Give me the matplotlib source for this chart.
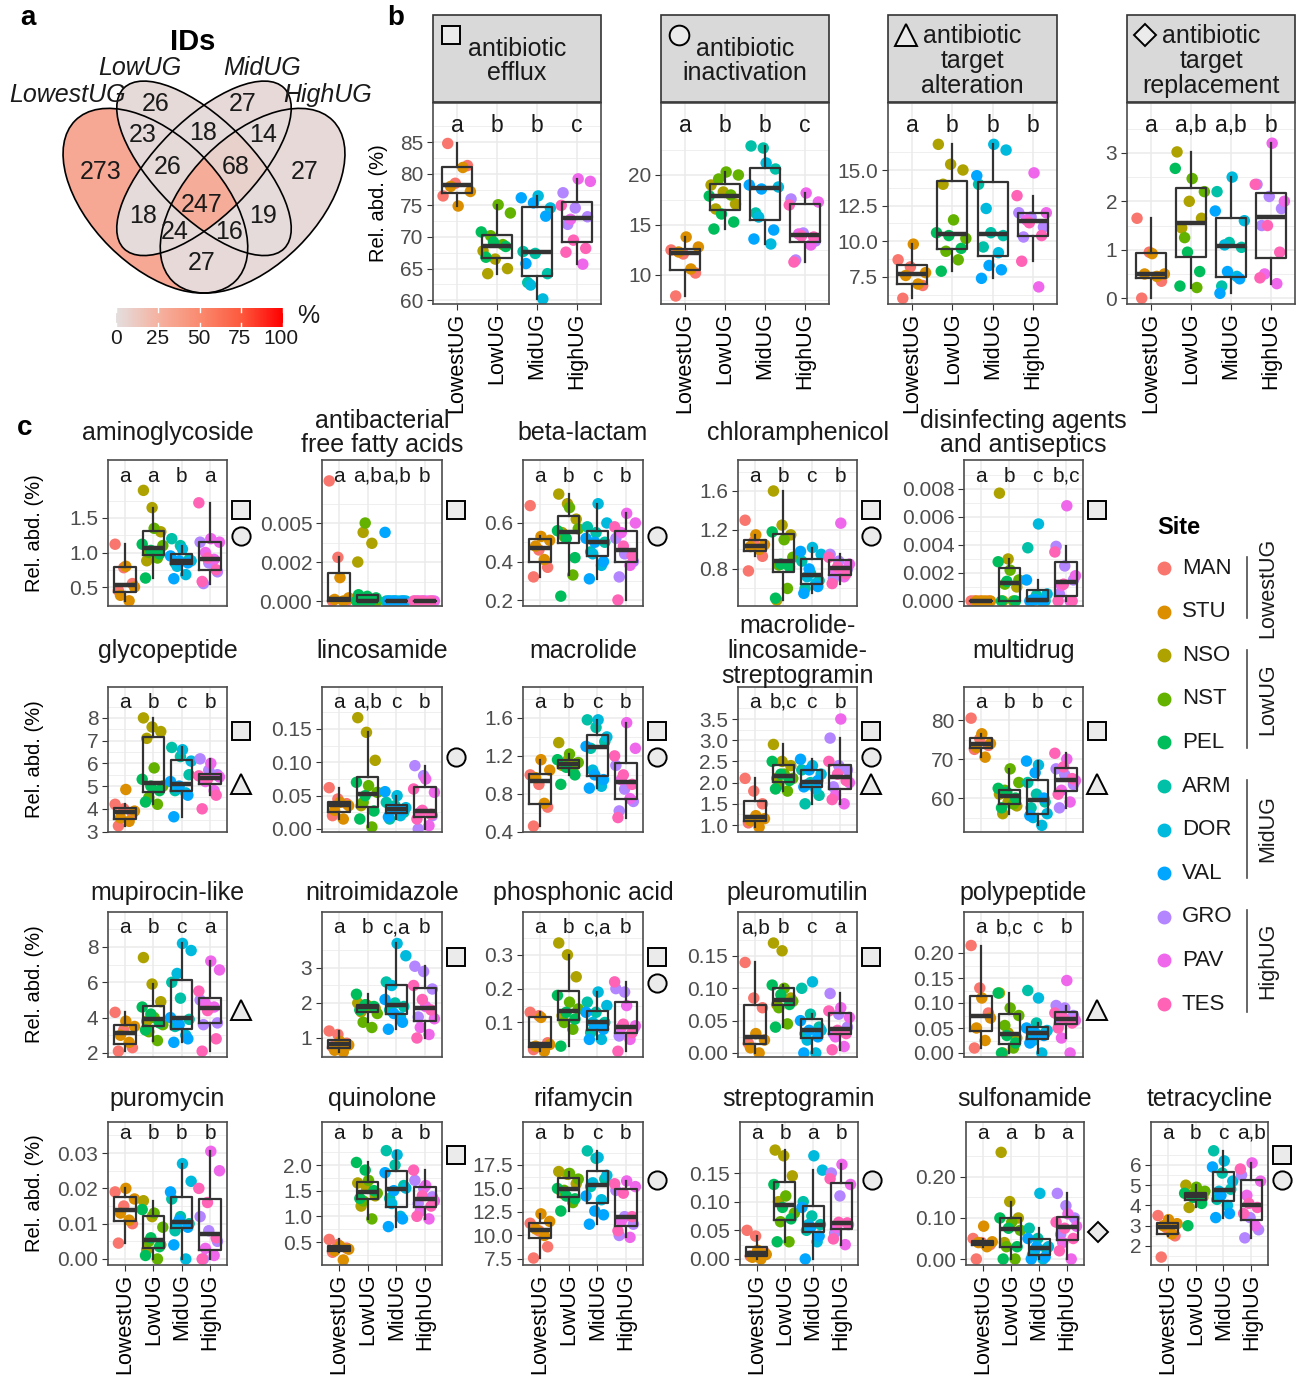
import numpy as np
import matplotlib
matplotlib.use("Agg")
import matplotlib.pyplot as plt
from matplotlib.patches import Ellipse, Rectangle
from matplotlib.colors import LinearSegmentedColormap
from matplotlib.lines import Line2D
from matplotlib.transforms import blended_transform_factory

plt.rcParams['font.family'] = ['Liberation Sans', 'DejaVu Sans']

# ---------------- data ----------------
groups = ['LowestUG', 'LowUG', 'MidUG', 'HighUG']
sites = ['MAN', 'STU', 'NSO', 'NST', 'PEL', 'ARM', 'DOR', 'VAL', 'GRO', 'PAV', 'TES']
site_colors = ['#F8766D', '#DB8E00', '#AEA200', '#64B200', '#00BD5C', '#00C1A7',
               '#00BADE', '#00A6FF', '#B385FF', '#EF67EB', '#FF63B6']
group_sites = [[0, 1], [2, 3, 4], [5, 6, 7], [8, 9, 10]]

# venn: membership (LowestUG, LowUG, MidUG, HighUG) -> number of IDs
venn_sets = ['LowestUG', 'LowUG', 'MidUG', 'HighUG']
venn_regions = ['1000', '0100', '0010', '0001', '1100', '0110', '0011', '1110',
                '0111', '1010', '1111', '0101', '1011', '1101', '1001']
venn_counts = [273, 26, 27, 27, 23, 18, 14, 26, 68, 18, 247, 19, 24, 16, 27]
venn_label_xy = [(0.182, 0.559), (0.352, 0.769), (0.620, 0.769), (0.812, 0.559),
                 (0.312, 0.673), (0.497, 0.679), (0.682, 0.673), (0.389, 0.574),
                 (0.599, 0.574), (0.312, 0.423), (0.494, 0.457), (0.682, 0.423),
                 (0.410, 0.373), (0.577, 0.373), (0.494, 0.278)]

# values per site: [LowestUG: MAN, STU], [LowUG: NSO, NST, PEL], [MidUG: ARM, DOR, VAL], [HighUG: GRO, PAV, TES]
efflux = [[[84.8, 81.3, 78.5, 76.5], [81.0, 78.0, 77.2, 74.9]],
          [[64.2, 65.0, 66.5, 67.8], [68.8, 70.2, 73.8, 75.1], [66.8, 68.5, 69.2, 70.8]],
          [[62.8, 64.2, 67.4, 67.7], [60.2, 62.4, 74.6, 76.5], [65.8, 73.3, 75.4, 76.2]],
          [[72.0, 73.2, 74.6, 77.0], [65.7, 72.8, 78.8, 79.2], [67.6, 68.2, 69.5, 75.0]]]
inactivation = [[[7.9, 10.2, 12.1, 12.5], [10.6, 12.3, 12.8, 13.8]],
                [[16.6, 17.1, 18.3, 19.0], [18.0, 19.6, 20.0, 20.3], [14.6, 15.3, 16.1, 17.9]],
                [[16.2, 20.6, 22.7, 22.9], [13.1, 15.8, 18.8, 21.2], [13.6, 14.5, 18.6, 19.0]],
                [[11.5, 13.4, 14.2, 17.6], [13.0, 14.1, 17.3, 18.2], [11.3, 13.8, 13.9, 17.0]]]
alteration = [[[6.0, 6.9, 8.2, 8.7], [7.0, 7.6, 7.8, 9.8]],
              [[14.0, 15.0, 15.4, 16.8], [8.7, 9.3, 10.2, 11.5], [7.9, 9.5, 10.4, 10.6]],
              [[9.6, 10.4, 10.6, 14.0], [9.2, 12.3, 16.4, 16.8], [7.4, 8.0, 8.3, 14.6]],
              [[10.3, 11.0, 11.7, 12.0], [6.8, 11.5, 12.0, 14.8], [8.6, 10.4, 11.3, 13.2]]]
replacement = [[[0.0, 0.35, 0.95, 1.65], [0.45, 0.5, 0.5, 0.92]],
               [[1.45, 1.65, 2.0, 3.02], [0.22, 1.25, 2.2, 2.47], [0.25, 0.55, 0.95, 2.68]],
               [[0.25, 1.05, 1.15, 2.2], [0.45, 1.1, 1.6, 2.5], [0.1, 0.4, 0.55, 1.8]],
               [[1.5, 1.85, 2.1, 2.35], [0.3, 0.5, 2.0, 3.2], [0.42, 0.95, 1.5, 2.35]]]

aminoglycoside = [[[0.45, 0.55, 0.78, 1.12], [0.3, 0.38, 0.5, 0.8]],
                  [[0.88, 1.3, 1.65, 1.9], [0.92, 1.0, 1.1, 1.35], [0.63, 0.98, 1.03, 1.12]],
                  [[0.85, 0.9, 1.1, 1.2], [0.68, 0.8, 0.88, 1.05], [0.62, 0.85, 0.88, 0.95]],
                  [[0.55, 0.72, 0.85, 1.15], [0.9, 1.0, 1.15, 1.2], [0.58, 0.75, 0.92, 1.72]]]
fatty_acids = [[[0, 0, 0.0028, 0.0077], [0, 0.0001, 0.0002, 0.0015]],
               [[0, 0, 0, 0.0025, 0.0037, 0.0044], [0, 0, 0, 0.0001, 0.005], [0, 0, 0, 0.0002, 0.0003, 0.0004]],
               [[0, 0, 0, 0], [0, 0, 0, 0], [0, 0, 0, 0.0044]],
               [[0, 0, 0, 0], [0, 0, 0, 0], [0, 0, 0, 0]]]
beta_lactam = [[[0.32, 0.37, 0.46, 0.69], [0.41, 0.48, 0.51, 0.53]],
               [[0.55, 0.62, 0.7, 0.75], [0.33, 0.53, 0.57, 0.68], [0.22, 0.42, 0.52, 0.56]],
               [[0.45, 0.5, 0.55, 0.58], [0.38, 0.44, 0.6, 0.7], [0.31, 0.4, 0.5, 0.52]],
               [[0.32, 0.4, 0.44, 0.52], [0.38, 0.55, 0.6, 0.65], [0.2, 0.43, 0.48, 0.58]]]
chloramphenicol = [[[0.78, 0.93, 1.08, 1.3], [1.0, 1.03, 1.05, 1.15]],
                   [[0.48, 1.15, 1.25, 1.6], [0.6, 0.84, 0.92, 1.1], [0.5, 0.82, 0.85, 1.18]],
                   [[0.6, 0.68, 0.76, 0.88], [0.65, 0.72, 0.95, 1.02], [0.55, 0.62, 0.8, 0.98]],
                   [[0.7, 0.8, 0.88, 0.95], [0.72, 0.78, 0.85, 1.27], [0.65, 0.75, 0.82, 0.92]]]
disinfecting = [[[0, 0, 0, 0], [0, 0, 0, 0]],
                [[0.0, 0.001, 0.003, 0.0077], [0.0, 0.0012, 0.0015, 0.0022], [0.0, 0.0, 0.0014, 0.0028]],
                [[0, 0, 0.0004, 0.0038], [0, 0.0001, 0.0005, 0.0055], [0, 0, 0.0001, 0.0015]],
                [[0.0005, 0.0015, 0.0025, 0.0039], [0.0, 0.0011, 0.0018, 0.0068], [0, 0, 0.0012, 0.0035]]]
glycopeptide = [[[3.25, 3.8, 4.0, 4.2], [3.45, 3.6, 3.9, 4.85]],
                [[7.1, 7.4, 7.6, 8.0], [4.2, 4.5, 5.0, 5.8], [4.3, 4.8, 5.0, 5.3]],
                [[4.8, 5.5, 6.3, 6.7], [4.7, 4.9, 6.1, 6.6], [3.65, 4.6, 5.0, 5.2]],
                [[5.3, 5.5, 5.7, 6.2], [4.8, 5.2, 5.4, 6.0], [4.0, 4.6, 5.3, 5.45]]]
lincosamide = [[[0.02, 0.038, 0.045, 0.062], [0.015, 0.028, 0.035, 0.04]],
               [[0.035, 0.103, 0.145, 0.167], [0.003, 0.04, 0.055, 0.065], [0.015, 0.027, 0.05, 0.07]],
               [[0.015, 0.025, 0.035, 0.04], [0.02, 0.03, 0.032, 0.05], [0.018, 0.028, 0.03, 0.056]],
               [[0.0, 0.02, 0.08, 0.095], [0.005, 0.025, 0.055, 0.075], [0.015, 0.022, 0.028, 0.06]]]
macrolide = [[[0.46, 0.66, 0.9, 1.0], [0.7, 0.97, 1.05, 1.16]],
             [[1.1, 1.12, 1.15, 1.34], [1.05, 1.1, 1.13, 1.22], [0.9, 1.0, 1.08, 1.16]],
             [[1.28, 1.35, 1.5, 1.58], [0.88, 1.05, 1.4, 1.58], [0.86, 0.95, 1.0, 1.3]],
             [[0.62, 0.72, 0.85, 1.1], [0.75, 0.95, 1.28, 1.55], [0.55, 0.9, 1.0, 1.2]]]
mls = [[[1.05, 1.5, 1.8, 2.1], [0.95, 1.1, 1.15, 1.22]],
       [[2.1, 2.4, 2.5, 2.9], [1.8, 1.95, 2.1, 2.2], [1.85, 2.05, 2.2, 2.5]],
       [[1.5, 1.7, 2.0, 2.3], [1.85, 1.95, 2.2, 2.4], [1.9, 2.05, 2.3, 2.55]],
       [[1.9, 2.3, 2.4, 3.05], [1.5, 1.7, 2.0, 3.5], [1.6, 2.05, 2.2, 2.5]]]
multidrug = [[[72.5, 73.5, 75.2, 80.5], [70.5, 73.0, 74.0, 76.5]],
             [[56.0, 58.0, 59.0, 61.0], [58.5, 62.0, 64.0, 67.5], [57.5, 60.0, 61.5, 62.5]],
             [[57.5, 59.0, 61.0, 64.0], [53.0, 55.0, 56.0, 68.5], [55.5, 60.0, 66.5, 69.5]],
             [[57.5, 63.5, 66.0, 67.5], [59.0, 62.0, 64.5, 70.0], [61.0, 65.0, 68.0, 71.5]]]
mupirocin = [[[2.1, 2.3, 3.3, 4.3], [2.6, 3.0, 3.5, 3.8]],
             [[3.8, 4.9, 5.9, 7.4], [2.7, 3.2, 3.6, 4.0], [3.3, 3.7, 4.2, 4.6]],
             [[3.5, 3.9, 5.1, 6.0], [3.0, 6.5, 7.8, 8.2], [2.6, 2.8, 3.6, 4.0]],
             [[3.6, 3.7, 4.5, 5.0], [4.6, 4.8, 6.7, 7.2], [2.1, 2.8, 4.4, 5.5]]]
nitroimidazole = [[[0.75, 0.85, 1.1, 1.2], [0.6, 0.65, 0.8, 0.9]],
                  [[1.75, 1.85, 1.95, 2.0], [1.3, 1.45, 1.7, 1.9], [1.8, 1.9, 1.95, 2.25]],
                  [[1.8, 1.9, 2.0, 2.6], [1.6, 2.5, 3.35, 3.7], [1.25, 1.45, 1.7, 2.1]],
                  [[1.6, 2.4, 2.9, 3.05], [1.1, 1.3, 1.55, 1.9], [1.0, 1.8, 2.1, 2.5]]]
phosphonic = [[[0.02, 0.04, 0.12, 0.13], [0.015, 0.03, 0.035, 0.115]],
              [[0.12, 0.235, 0.3, 0.335], [0.08, 0.1, 0.14, 0.16], [0.03, 0.11, 0.13, 0.18]],
              [[0.07, 0.1, 0.13, 0.16], [0.05, 0.1, 0.15, 0.19], [0.05, 0.08, 0.09, 0.13]],
              [[0.06, 0.08, 0.19, 0.2], [0.05, 0.085, 0.09, 0.15], [0.015, 0.07, 0.095, 0.22]]]
pleuromutilin = [[[0.015, 0.07, 0.085, 0.14], [0.0, 0.008, 0.02, 0.03]],
                 [[0.075, 0.085, 0.158, 0.17], [0.045, 0.07, 0.08, 0.1], [0.04, 0.075, 0.09, 0.105]],
                 [[0.03, 0.04, 0.06, 0.1], [0.0, 0.02, 0.035, 0.11], [0.0, 0.025, 0.035, 0.05]],
                 [[0.03, 0.04, 0.06, 0.092], [0.01, 0.025, 0.055, 0.07], [0.005, 0.03, 0.035, 0.065]]]
polypeptide = [[[0.01, 0.08, 0.13, 0.215], [0.025, 0.05, 0.07, 0.11]],
               [[0.0, 0.03, 0.04, 0.12], [0.01, 0.055, 0.075, 0.09], [0.0, 0.02, 0.035, 0.12]],
               [[0.03, 0.04, 0.06, 0.125], [0.0, 0.025, 0.045, 0.11], [0.02, 0.035, 0.04, 0.05]],
               [[0.06, 0.075, 0.09, 0.095], [0.0, 0.03, 0.065, 0.145], [0.05, 0.06, 0.07, 0.08]]]
puromycin = [[[0.0045, 0.01, 0.015, 0.019], [0.011, 0.013, 0.017, 0.02]],
             [[0.0025, 0.004, 0.012, 0.0165], [0.0, 0.005, 0.009, 0.013], [0.001, 0.0035, 0.006, 0.014]],
             [[0.008, 0.01, 0.012, 0.017], [0.0, 0.01, 0.022, 0.027], [0.004, 0.009, 0.011, 0.019]],
             [[0.0, 0.005, 0.008, 0.012], [0.001, 0.003, 0.025, 0.0305], [0.0, 0.006, 0.016, 0.02]]]
quinolone = [[[0.3, 0.38, 0.45, 0.55], [0.15, 0.33, 0.36, 0.42]],
             [[1.2, 1.4, 1.55, 1.65], [0.95, 1.3, 1.45, 1.7], [1.35, 1.5, 1.9, 2.05]],
             [[1.35, 1.6, 2.0, 2.28], [1.0, 1.25, 1.55, 2.2], [0.8, 0.95, 1.5, 1.85]],
             [[1.25, 1.38, 1.55, 1.7], [0.95, 1.1, 1.3, 1.6], [1.0, 1.2, 1.4, 1.9]]]
rifamycin = [[[7.6, 8.8, 10.5, 11.3], [10.0, 10.7, 11.5, 12.3]],
             [[14.5, 15.5, 16.5, 16.8], [13.5, 14.8, 16.0, 16.6], [12.6, 13.9, 14.2, 15.0]],
             [[15.2, 16.0, 18.2, 19.0], [13.8, 15.6, 16.4, 18.3], [11.2, 12.2, 12.6, 14.2]],
             [[10.0, 11.2, 12.0, 14.8], [9.8, 11.5, 15.2, 15.8], [10.5, 12.0, 14.5, 15.5]]]
streptogramin = [[[0.005, 0.012, 0.04, 0.05], [0.0, 0.003, 0.008, 0.015]],
                 [[0.1, 0.145, 0.18, 0.19], [0.03, 0.065, 0.08, 0.11], [0.03, 0.07, 0.09, 0.13]],
                 [[0.05, 0.06, 0.075, 0.1], [0.03, 0.06, 0.155, 0.18], [0.0, 0.04, 0.055, 0.09]],
                 [[0.045, 0.06, 0.11, 0.15], [0.025, 0.055, 0.13, 0.165], [0.035, 0.063, 0.064, 0.14]]]
sulfonamide = [[[0.0, 0.035, 0.04, 0.05], [0.03, 0.04, 0.042, 0.08]],
               [[0.04, 0.1, 0.14, 0.26], [0.0, 0.03, 0.07, 0.09], [0.0, 0.03, 0.075, 0.1]],
               [[0.01, 0.025, 0.05, 0.075], [0.0, 0.02, 0.03, 0.16], [0.0, 0.005, 0.03, 0.05]],
               [[0.06, 0.1, 0.13, 0.16], [0.0, 0.04, 0.08, 0.11], [0.02, 0.05, 0.075, 0.09]]]
tetracycline = [[[1.45, 2.5, 2.9, 3.5], [2.6, 3.0, 3.1, 3.3]],
                [[3.9, 4.4, 4.6, 5.0], [4.3, 4.5, 4.7, 4.9], [3.0, 4.1, 4.4, 4.6]],
                [[4.3, 4.8, 5.6, 6.7], [4.0, 4.7, 5.2, 6.2], [3.4, 3.6, 4.5, 5.9]],
                [[2.4, 2.8, 3.4, 5.5], [3.0, 4.5, 5.2, 6.1], [3.6, 3.9, 4.1, 5.8]]]

# panel b: mechanisms
b_titles = ['antibiotic\nefflux', 'antibiotic\ninactivation', 'antibiotic\ntarget\nalteration',
            'antibiotic\ntarget\nreplacement']
b_shapes = ['s', 'o', '^', 'D']
b_data = [efflux, inactivation, alteration, replacement]
b_letters = [['a', 'b', 'b', 'c'], ['a', 'b', 'b', 'c'], ['a', 'b', 'b', 'b'], ['a', 'a,b', 'a,b', 'b']]
b_ticks = [[60, 65, 70, 75, 80, 85], [10, 15, 20], [7.5, 10, 12.5, 15], [0, 1, 2, 3]]
b_ticklabels = [['60', '65', '70', '75', '80', '85'], ['10', '15', '20'],
                ['7.5', '10.0', '12.5', '15.0'], ['0', '1', '2', '3']]
b_ylims = [(59.4, 91.2), (7.1, 27.2), (5.6, 19.7), (-0.12, 4.03)]

# panel c: drug classes
c_titles = ['aminoglycoside', 'antibacterial\nfree fatty acids', 'beta-lactam', 'chloramphenicol',
            'disinfecting agents\nand antiseptics',
            'glycopeptide', 'lincosamide', 'macrolide', 'macrolide-\nlincosamide-\nstreptogramin', 'multidrug',
            'mupirocin-like', 'nitroimidazole', 'phosphonic acid', 'pleuromutilin', 'polypeptide',
            'puromycin', 'quinolone', 'rifamycin', 'streptogramin', 'sulfonamide', 'tetracycline']
c_data = [aminoglycoside, fatty_acids, beta_lactam, chloramphenicol, disinfecting,
          glycopeptide, lincosamide, macrolide, mls, multidrug,
          mupirocin, nitroimidazole, phosphonic, pleuromutilin, polypeptide,
          puromycin, quinolone, rifamycin, streptogramin, sulfonamide, tetracycline]
c_letters = [['a', 'a', 'b', 'a'], ['a', 'a,b', 'a,b', 'b'], ['a', 'b', 'c', 'b'], ['a', 'b', 'c', 'b'],
             ['a', 'b', 'c', 'b,c'],
             ['a', 'b', 'c', 'b'], ['a', 'a,b', 'c', 'b'], ['a', 'b', 'c', 'b'], ['a', 'b,c', 'c', 'b'],
             ['a', 'b', 'b', 'c'],
             ['a', 'b', 'c', 'a'], ['a', 'b', 'c,a', 'b'], ['a', 'b', 'c,a', 'b'], ['a,b', 'b', 'c', 'a'],
             ['a', 'b,c', 'c', 'b'],
             ['a', 'b', 'b', 'b'], ['a', 'b', 'a', 'b'], ['a', 'b', 'c', 'b'], ['a', 'b', 'a', 'b'],
             ['a', 'a', 'b', 'a'], ['a', 'b', 'c', 'a,b']]
c_ticks = [[0.5, 1.0, 1.5], [0, 0.0025, 0.005], [0.2, 0.4, 0.6], [0.8, 1.2, 1.6],
           [0, 0.002, 0.004, 0.006, 0.008],
           [3, 4, 5, 6, 7, 8], [0, 0.05, 0.1, 0.15], [0.4, 0.8, 1.2, 1.6], [1.0, 1.5, 2.0, 2.5, 3.0, 3.5],
           [60, 70, 80],
           [2, 4, 6, 8], [1, 2, 3], [0.1, 0.2, 0.3], [0, 0.05, 0.1, 0.15], [0, 0.05, 0.1, 0.15, 0.2],
           [0, 0.01, 0.02, 0.03], [0.5, 1.0, 1.5, 2.0], [7.5, 10, 12.5, 15, 17.5], [0, 0.05, 0.1, 0.15],
           [0, 0.1, 0.2], [2, 3, 4, 5, 6]]
c_ticklabels = [['0.5', '1.0', '1.5'], ['0.000', '0.002', '0.005'], ['0.2', '0.4', '0.6'],
                ['0.8', '1.2', '1.6'], ['0.000', '0.002', '0.004', '0.006', '0.008'],
                ['3', '4', '5', '6', '7', '8'], ['0.00', '0.05', '0.10', '0.15'], ['0.4', '0.8', '1.2', '1.6'],
                ['1.0', '1.5', '2.0', '2.5', '3.0', '3.5'], ['60', '70', '80'],
                ['2', '4', '6', '8'], ['1', '2', '3'], ['0.1', '0.2', '0.3'], ['0.00', '0.05', '0.10', '0.15'],
                ['0.00', '0.05', '0.10', '0.15', '0.20'],
                ['0.00', '0.01', '0.02', '0.03'], ['0.5', '1.0', '1.5', '2.0'],
                ['7.5', '10.0', '12.5', '15.0', '17.5'], ['0.00', '0.05', '0.10', '0.15'],
                ['0.00', '0.10', '0.20'], ['2', '3', '4', '5', '6']]
c_ylims = [(0.225, 2.34), (-0.00032, 0.00904), (0.169, 0.927), (0.42, 1.918), (-0.00036, 0.01007),
           (2.98, 9.36), (-0.0045, 0.213), (0.398, 1.926), (0.835, 4.255), (51.3, 88.5),
           (1.77, 9.98), (0.457, 4.6), (-0.002, 0.4265), (-0.0062, 0.218), (-0.008, 0.282),
           (-0.0017, 0.0388), (0.052, 2.838), (6.86, 22.07), (-0.0105, 0.239), (-0.0146, 0.334),
           (1.06, 8.12)]
c_shapes = ['so', 's', 'o', 'so', 's',
            's^', 'o', 'so', 'so^', 's^',
            '^', 's', 'so', 's', '^',
            '', 's', 'o', 'o', 'D', 'so']

# ---------------- figure ----------------
W, H = 1306, 1376
fig = plt.figure(figsize=(W / 100, H / 100), dpi=100)


def fx(px):
    return px / W


def fy(py):
    return 1 - py / H


def add_ax(x0, y0, x1, y1):
    return fig.add_axes([x0 / W, 1 - y1 / H, (x1 - x0) / W, (y1 - y0) / H])


def shape_marker(x, y, m, size):
    ms = {'s': size, 'o': size * 1.05, '^': size * 1.15, 'D': size * 0.8}[m]
    fig.add_artist(Line2D([fx(x)], [fy(y)], marker=m, ms=ms, mfc='#ebebeb', mec='black',
                          mew=1.4, ls='none', transform=fig.transFigure))


def box_panel(ax, data, letters, ticks, ticklabels, ylim, letter_y, letter_size, show_x):
    vals = []
    for g, group in enumerate(data):
        allv, cols = [], []
        for s, sv in zip(group_sites[g], group):
            allv += sv
            cols += [site_colors[s]] * len(sv)
        n = len(allv)
        off = ((np.arange(n) * 0.618034 + 0.21) % 1 - 0.5) * 0.8
        ax.scatter(g + 1 + off, allv, s=68, c=cols, lw=0, zorder=2)
        vals.append(allv)
    lc = '#333333'
    ax.boxplot(vals, positions=[1, 2, 3, 4], widths=0.75, showfliers=False, showcaps=False,
               boxprops=dict(color=lc, lw=1.6), whiskerprops=dict(color=lc, lw=1.6),
               medianprops=dict(color=lc, lw=3.2, solid_capstyle='butt'), zorder=3)
    ax.set_xlim(0.4, 4.6)
    ax.set_ylim(*ylim)
    ax.set_yticks(ticks)
    ax.set_yticklabels(ticklabels)
    step = ticks[1] - ticks[0]
    minor = [v for v in np.arange(ticks[0] - step / 2, ticks[-1] + step, step) if ylim[0] <= v <= ylim[1]]
    ax.set_yticks(minor, minor=True)
    ax.set_axisbelow(True)
    ax.grid(which='major', color='#ebebeb', lw=1.1)
    ax.grid(which='minor', axis='y', color='#ebebeb', lw=0.55)
    ax.tick_params(which='minor', length=0)
    ax.tick_params(axis='y', labelsize=15, labelcolor='#4d4d4d', color='#333333', length=4, pad=3)
    ax.set_xticks([1, 2, 3, 4])
    if show_x:
        ax.set_xticklabels(groups, rotation=90, fontsize=15.5, color='black')
        ax.tick_params(axis='x', color='#333333', length=4, pad=2)
    else:
        ax.set_xticklabels([])
        ax.tick_params(axis='x', length=0)
    for sp in ax.spines.values():
        sp.set_color('#4d4d4d')
        sp.set_linewidth(1.2)
    tr = blended_transform_factory(ax.transData, ax.transAxes)
    for i, l in enumerate(letters):
        ax.text(i + 1, letter_y, l, transform=tr, ha='center', va='center', fontsize=letter_size,
                color='#1a1a1a')


# ---------------- panel a: venn ----------------
vax = add_ax(42, 29, 366, 353)
vax.set_xlim(0, 1)
vax.set_ylim(0, 1)
vax.axis('off')
ellipses = [(0.35, 0.47, 0.35, 0.20, -45), (0.50, 0.57, 0.35, 0.15, -45),
            (0.50, 0.57, 0.35, 0.15, 45), (0.65, 0.47, 0.35, 0.20, 45)]
venn_cmap = LinearSegmentedColormap.from_list(
    'venn', ['#e4dfdf', '#f5b3a2', '#fa8b70', '#fd5a3e', '#ff0000'])
total = sum(venn_counts)
res = 800
gx, gy = np.meshgrid(np.linspace(0, 1, res), np.linspace(0, 1, res))
code = np.zeros(gx.shape, dtype=int)
for k, (cx, cy, a, b, ang) in enumerate(ellipses):
    t = np.deg2rad(ang)
    dx, dy = gx - cx, gy - cy
    u = dx * np.cos(t) + dy * np.sin(t)
    v = -dx * np.sin(t) + dy * np.cos(t)
    inside = (u / a) ** 2 + (v / b) ** 2 <= 1
    code += inside.astype(int) << (3 - k)
rgba = np.zeros(gx.shape + (4,))
for reg, cnt in zip(venn_regions, venn_counts):
    rgba[code == int(reg, 2)] = venn_cmap(cnt / total)
vax.imshow(rgba, extent=(0, 1, 0, 1), origin='lower', interpolation='nearest', zorder=1)
for cx, cy, a, b, ang in ellipses:
    vax.add_patch(Ellipse((cx, cy), 2 * a, 2 * b, angle=ang, fill=False, ec='black', lw=1.2,
                          zorder=3, clip_on=False))
for (lx, ly), cnt in zip(venn_label_xy, venn_counts):
    vax.text(lx, ly, str(cnt), ha='center', va='center', fontsize=18, color='#1a1a1a', zorder=4)
for (lx, ly), name in zip([(0.080, 0.796), (0.302, 0.880), (0.679, 0.880), (0.883, 0.796)], venn_sets):
    vax.text(lx, ly, name, ha='center', va='center', fontsize=18, style='italic', color='#1a1a1a', zorder=4)
fig.text(fx(193), fy(42), 'IDs', ha='center', va='center', fontsize=21, fontweight='bold')

# colour bar
cax = add_ax(116, 308, 283, 327)
cax.imshow(np.linspace(0, 1, 256)[None, :], aspect='auto', cmap=venn_cmap, extent=(0, 100, 0, 1))
cax.set_xlim(0, 100)
cax.set_ylim(0, 1)
cax.axis('off')
for v in [0, 25, 50, 75, 100]:
    cax.plot([v, v], [0, 0.2], color='white', lw=1)
    cax.plot([v, v], [0.8, 1], color='white', lw=1)
    fig.text(fx(116 + 1.65 * v), fy(339), str(v), ha='center', va='center', fontsize=15, color='#1a1a1a')
fig.text(fx(308), fy(316), '%', ha='center', va='center', fontsize=18, color='#1a1a1a')

# ---------------- panel b ----------------
b_boxes = [(433, 601), (661, 829), (888, 1057), (1127, 1295)]
for i, (x0, x1) in enumerate(b_boxes):
    ax = add_ax(x0, 103, x1, 304)
    box_panel(ax, b_data[i], b_letters[i], b_ticks[i], b_ticklabels[i], b_ylims[i],
              0.886, 16.5, True)
    fig.add_artist(Rectangle((fx(x0), fy(102)), (x1 - x0) / W, 87 / H, transform=fig.transFigure,
                             fc='#d9d9d9', ec='#333333', lw=1.2))
    fig.text(fx((x0 + x1) / 2), fy(61), b_titles[i], ha='center', va='center', fontsize=18,
             linespacing=1.05, color='#1a1a1a')
    shape_marker(x0 + 18, 35, b_shapes[i], 13.5)
fig.text(fx(378), fy(203), 'Rel. abd. (%)', rotation=90, ha='center', va='center', fontsize=14.5)

# ---------------- panel c ----------------
cols_top = [(108, 227), (322, 442), (523, 643), (738, 857), (964, 1083)]
cols_bottom = [(108, 227), (322, 442), (523, 643), (740, 858), (966, 1084), (1151, 1268)]
rows = [(460, 606), (687, 832), (912, 1057), (1122, 1265)]
title_y = [433, 651, 893, 1099]
letter_y = [0.89, 0.895, 0.89, 0.92]
slot_y = [[510, 536, 562, 588], [731, 757, 784, 810], [957, 983, 1010, 1036], [1155, 1180, 1206, 1232]]
slot_of = {'s': 0, 'o': 1, '^': 2, 'D': 3}

k = 0
for r, (y0, y1) in enumerate(rows):
    cols = cols_bottom if r == 3 else cols_top
    for (x0, x1) in cols:
        ax = add_ax(x0, y0, x1, y1)
        box_panel(ax, c_data[k], c_letters[k], c_ticks[k], c_ticklabels[k], c_ylims[k],
                  letter_y[r], 15, r == 3)
        fig.text(fx((x0 + x1) / 2), fy(title_y[r]), c_titles[k], ha='center', va='center',
                 fontsize=18, linespacing=1.05, color='#1a1a1a')
        for m in c_shapes[k]:
            shape_marker(x1 + 14, slot_y[r][slot_of[m]], m, 12.5)
        k += 1
    fig.text(fx(35), fy((y0 + y1) / 2), 'Rel. abd. (%)', rotation=90, ha='center', va='center',
             fontsize=14.5)

# legend
fig.text(fx(1157), fy(528), 'Site', ha='left', va='center', fontsize=17, fontweight='bold')
for i, (s, c) in enumerate(zip(sites, site_colors)):
    yy = 568 + i * 43.6
    fig.add_artist(Line2D([fx(1164)], [fy(yy)], marker='o', ms=9, mfc=c, mec=c, ls='none',
                          transform=fig.transFigure))
    fig.text(fx(1182), fy(yy), s, ha='left', va='center', fontsize=16, color='#1a1a1a')
for name, (ya, yb) in zip(groups, [(557, 618), (650, 748), (780, 878), (910, 1012)]):
    fig.add_artist(Line2D([fx(1247), fx(1247)], [fy(ya), fy(yb)], color='#4d4d4d', lw=1.2,
                          transform=fig.transFigure))
    fig.text(fx(1268), fy((ya + yb) / 2), name, rotation=90, ha='center', va='center', fontsize=15.5,
             color='#1a1a1a')

# panel letters
for lab, (x, y) in zip(['a', 'b', 'c'], [(28, 18), (396, 18), (25, 428)]):
    fig.text(fx(x), fy(y), lab, ha='center', va='center', fontsize=20, fontweight='bold')

fig.savefig('out.png', dpi=100)
